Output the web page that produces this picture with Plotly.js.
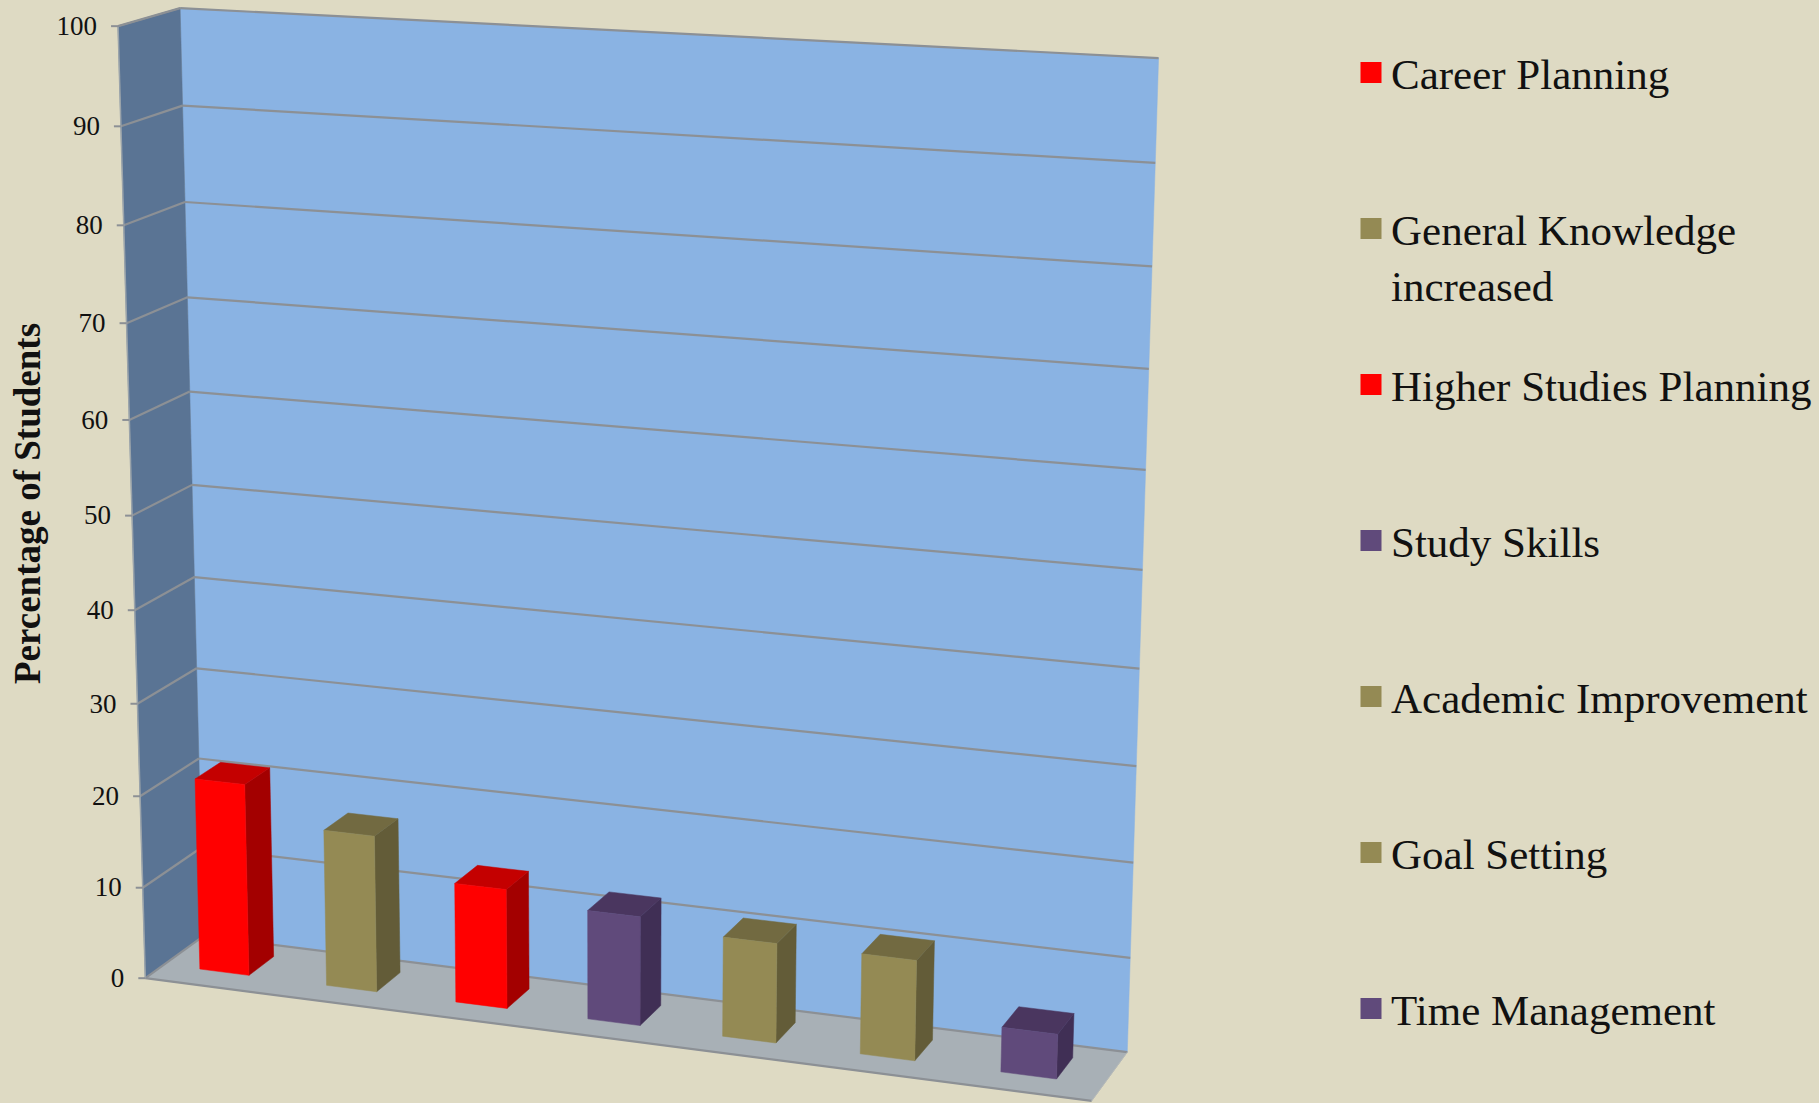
<!DOCTYPE html>
<html><head><meta charset="utf-8">
<script src="https://cdn.plot.ly/plotly-3.0.1.min.js"></script>
<style>html,body{margin:0;padding:0;background:#DEDAC3}</style></head>
<body><div id="chart" style="width:1819px;height:1103px"></div>
<script>
// ---------- data ----------
const categories = ["Career Planning","General Knowledge<br>increased","Higher Studies Planning","Study Skills","Academic Improvement","Goal Setting","Time Management"];
const values = [21,17,12.9,11.7,10.6,10.6,4.7];
const tickValues = [0,10,20,30,40,50,60,70,80,90,100];
const frontColors = ["#FF0000","#948A54","#FF0000","#604A7B","#948A54","#948A54","#604A7B"];
const sideColors  = ["#A30000","#635C38","#A30000","#402F55","#635C38","#635C38","#402F55"];
const topColors   = ["#C40000","#726A41","#C40000","#4A365F","#726A41","#726A41","#4A365F"];

// ---------- perspective calibration (u: along categories, v: value/100, w: depth) ----------
const calib = [
 [0,0,0,147,977],[1,0,0,1092,1102],[0,0,1,201,938],[1,0,1,1126,1051],
 [0,1,0,116,27],[0,1,1,181,8],[1,1,1,1158,58],
 [0,.5,1,194,484],[1,.5,1,1144,570],[0,.5,0,132,515]
];
function solveCamera(pts){
  const n=11,A=Array.from({length:n},()=>Array(n+1).fill(0));
  function add(r,b){for(let i=0;i<n;i++){for(let j=0;j<n;j++)A[i][j]+=r[i]*r[j];A[i][n]+=r[i]*b;}}
  pts.forEach(([u,v,w,x,y])=>{x/=1000;y/=1000;
    add([u,v,w,1,0,0,0,0,-x*u,-x*v,-x*w],x);
    add([0,0,0,0,u,v,w,1,-y*u,-y*v,-y*w],y);});
  for(let i=0;i<n;i++){let p=i;for(let k=i+1;k<n;k++)if(Math.abs(A[k][i])>Math.abs(A[p][i]))p=k;
    [A[i],A[p]]=[A[p],A[i]];
    for(let k=0;k<n;k++)if(k!==i){const f=A[k][i]/A[i][i];for(let j=i;j<=n;j++)A[k][j]-=f*A[i][j];}}
  return A.map((r,i)=>r[n]/r[i]);
}
const h=solveCamera(calib);
function proj(u,v,w){const d=h[8]*u+h[9]*v+h[10]*w+1;
  return [1000*(h[0]*u+h[1]*v+h[2]*w+h[3])/d,1000*(h[4]*u+h[5]*v+h[6]*w+h[7])/d];}

// ---------- helpers ----------
const traces=[];
const nCat=categories.length, barLeft=0.285, barRight=0.675, w0=0.32, w1=0.76;
function poly(corners,fill,line,lw){
  const p=corners.map(c=>proj(c[0],c[1],c[2]));p.push(p[0]);
  traces.push({type:'scatter',mode:'lines',x:p.map(q=>q[0]),y:p.map(q=>q[1]),fill:'toself',fillcolor:fill,
    line:{color:line||fill,width:lw===undefined?0.5:lw},showlegend:false,hoverinfo:'skip'});
}
function seg(a,b,color,lw){
  const p=[proj(...a),proj(...b)];
  traces.push({type:'scatter',mode:'lines',x:p.map(q=>q[0]),y:p.map(q=>q[1]),line:{color:color,width:lw},showlegend:false,hoverinfo:'skip'});
}
const gridC='#8C9095';
// walls
poly([[0,0,1],[1,0,1],[1,1,1],[0,1,1]],'#8AB3E3');
poly([[0,0,0],[0,0,1],[0,1,1],[0,1,0]],'#5A7494');
poly([[0,0,0],[1,0,0],[1,0,1],[0,0,1]],'#A8B0B6');
// gridlines
tickValues.forEach(t=>{const v=t/100;
  seg([0,v,0],[0,v,1],gridC,2.2);
  seg([0,v,1],[1,v,1],gridC,2.2);
});
seg([0,0,0],[1,0,0],gridC,2.2);
seg([1,0,0],[1,0,1],'#B5B9B8',1);
seg([0,0,0],[0,1,0],'#9AA3AA',1.5);
seg([0,1,0],[0,1,1],gridC,1.5);
// ticks
const tickPts=tickValues.map(t=>proj(0,t/100,0));
tickValues.forEach((t,i)=>{const p=tickPts[i];
  traces.push({type:'scatter',mode:'lines',x:[p[0]-7,p[0]],y:[p[1],p[1]],line:{color:gridC,width:2},showlegend:false,hoverinfo:'skip'});});
traces.push({type:'scatter',mode:'text',x:tickPts.map(p=>p[0]-21),y:tickPts.map(p=>p[1]+2),text:tickValues.map(String),
  textposition:'middle left',textfont:{family:'"Liberation Serif",serif',size:27,color:'#111'},showlegend:false,hoverinfo:'skip'});
// bars
values.forEach((val,i)=>{
  const a=(i+barLeft)/nCat,b=(i+barRight)/nCat,v=val/100;
  poly([[b,0,w0],[b,0,w1],[b,v,w1],[b,v,w0]],sideColors[i]);
  poly([[a,v,w0],[b,v,w0],[b,v,w1],[a,v,w1]],topColors[i]);
  poly([[a,0,w0],[b,0,w0],[b,v,w0],[a,v,w0]],frontColors[i]);
});
// legends
const layoutLegends={};
const legendTop0=38, legendStep=156;
categories.forEach((c,i)=>{
  const key=i===0?'legend':'legend'+(i+1);
  traces.push({type:'scatter',mode:'markers',x:[null],y:[null],name:c,legend:key,showlegend:true,
    marker:{symbol:'square',size:16,color:frontColors[i],line:{color:frontColors[i],width:5}}});
  layoutLegends[key]={x:1351/1819,xanchor:'left',y:1-(legendTop0+i*legendStep)/1103,yanchor:'top',valign:'top',
    bgcolor:'rgba(0,0,0,0)',borderwidth:0,font:{family:'"Liberation Serif",serif',size:43,color:'#111'},itemclick:false,itemdoubleclick:false};
});
const layout=Object.assign({
  width:1819,height:1103,margin:{l:0,r:0,t:0,b:0},paper_bgcolor:'#DEDAC3',plot_bgcolor:'#DEDAC3',showlegend:true,
  xaxis:{range:[0,1819],visible:false,fixedrange:true},
  yaxis:{range:[1103,0],visible:false,fixedrange:true},
  annotations:[{text:'<b>Percentage of Students</b>',xref:'paper',yref:'paper',x:27/1819,y:1-504/1103,showarrow:false,textangle:-90,
    xanchor:'center',yanchor:'middle',font:{family:'"Liberation Serif",serif',size:37,color:'#111'}}]
},layoutLegends);
Plotly.newPlot('chart',traces,layout,{displayModeBar:false,staticPlot:true});
</script></body></html>
